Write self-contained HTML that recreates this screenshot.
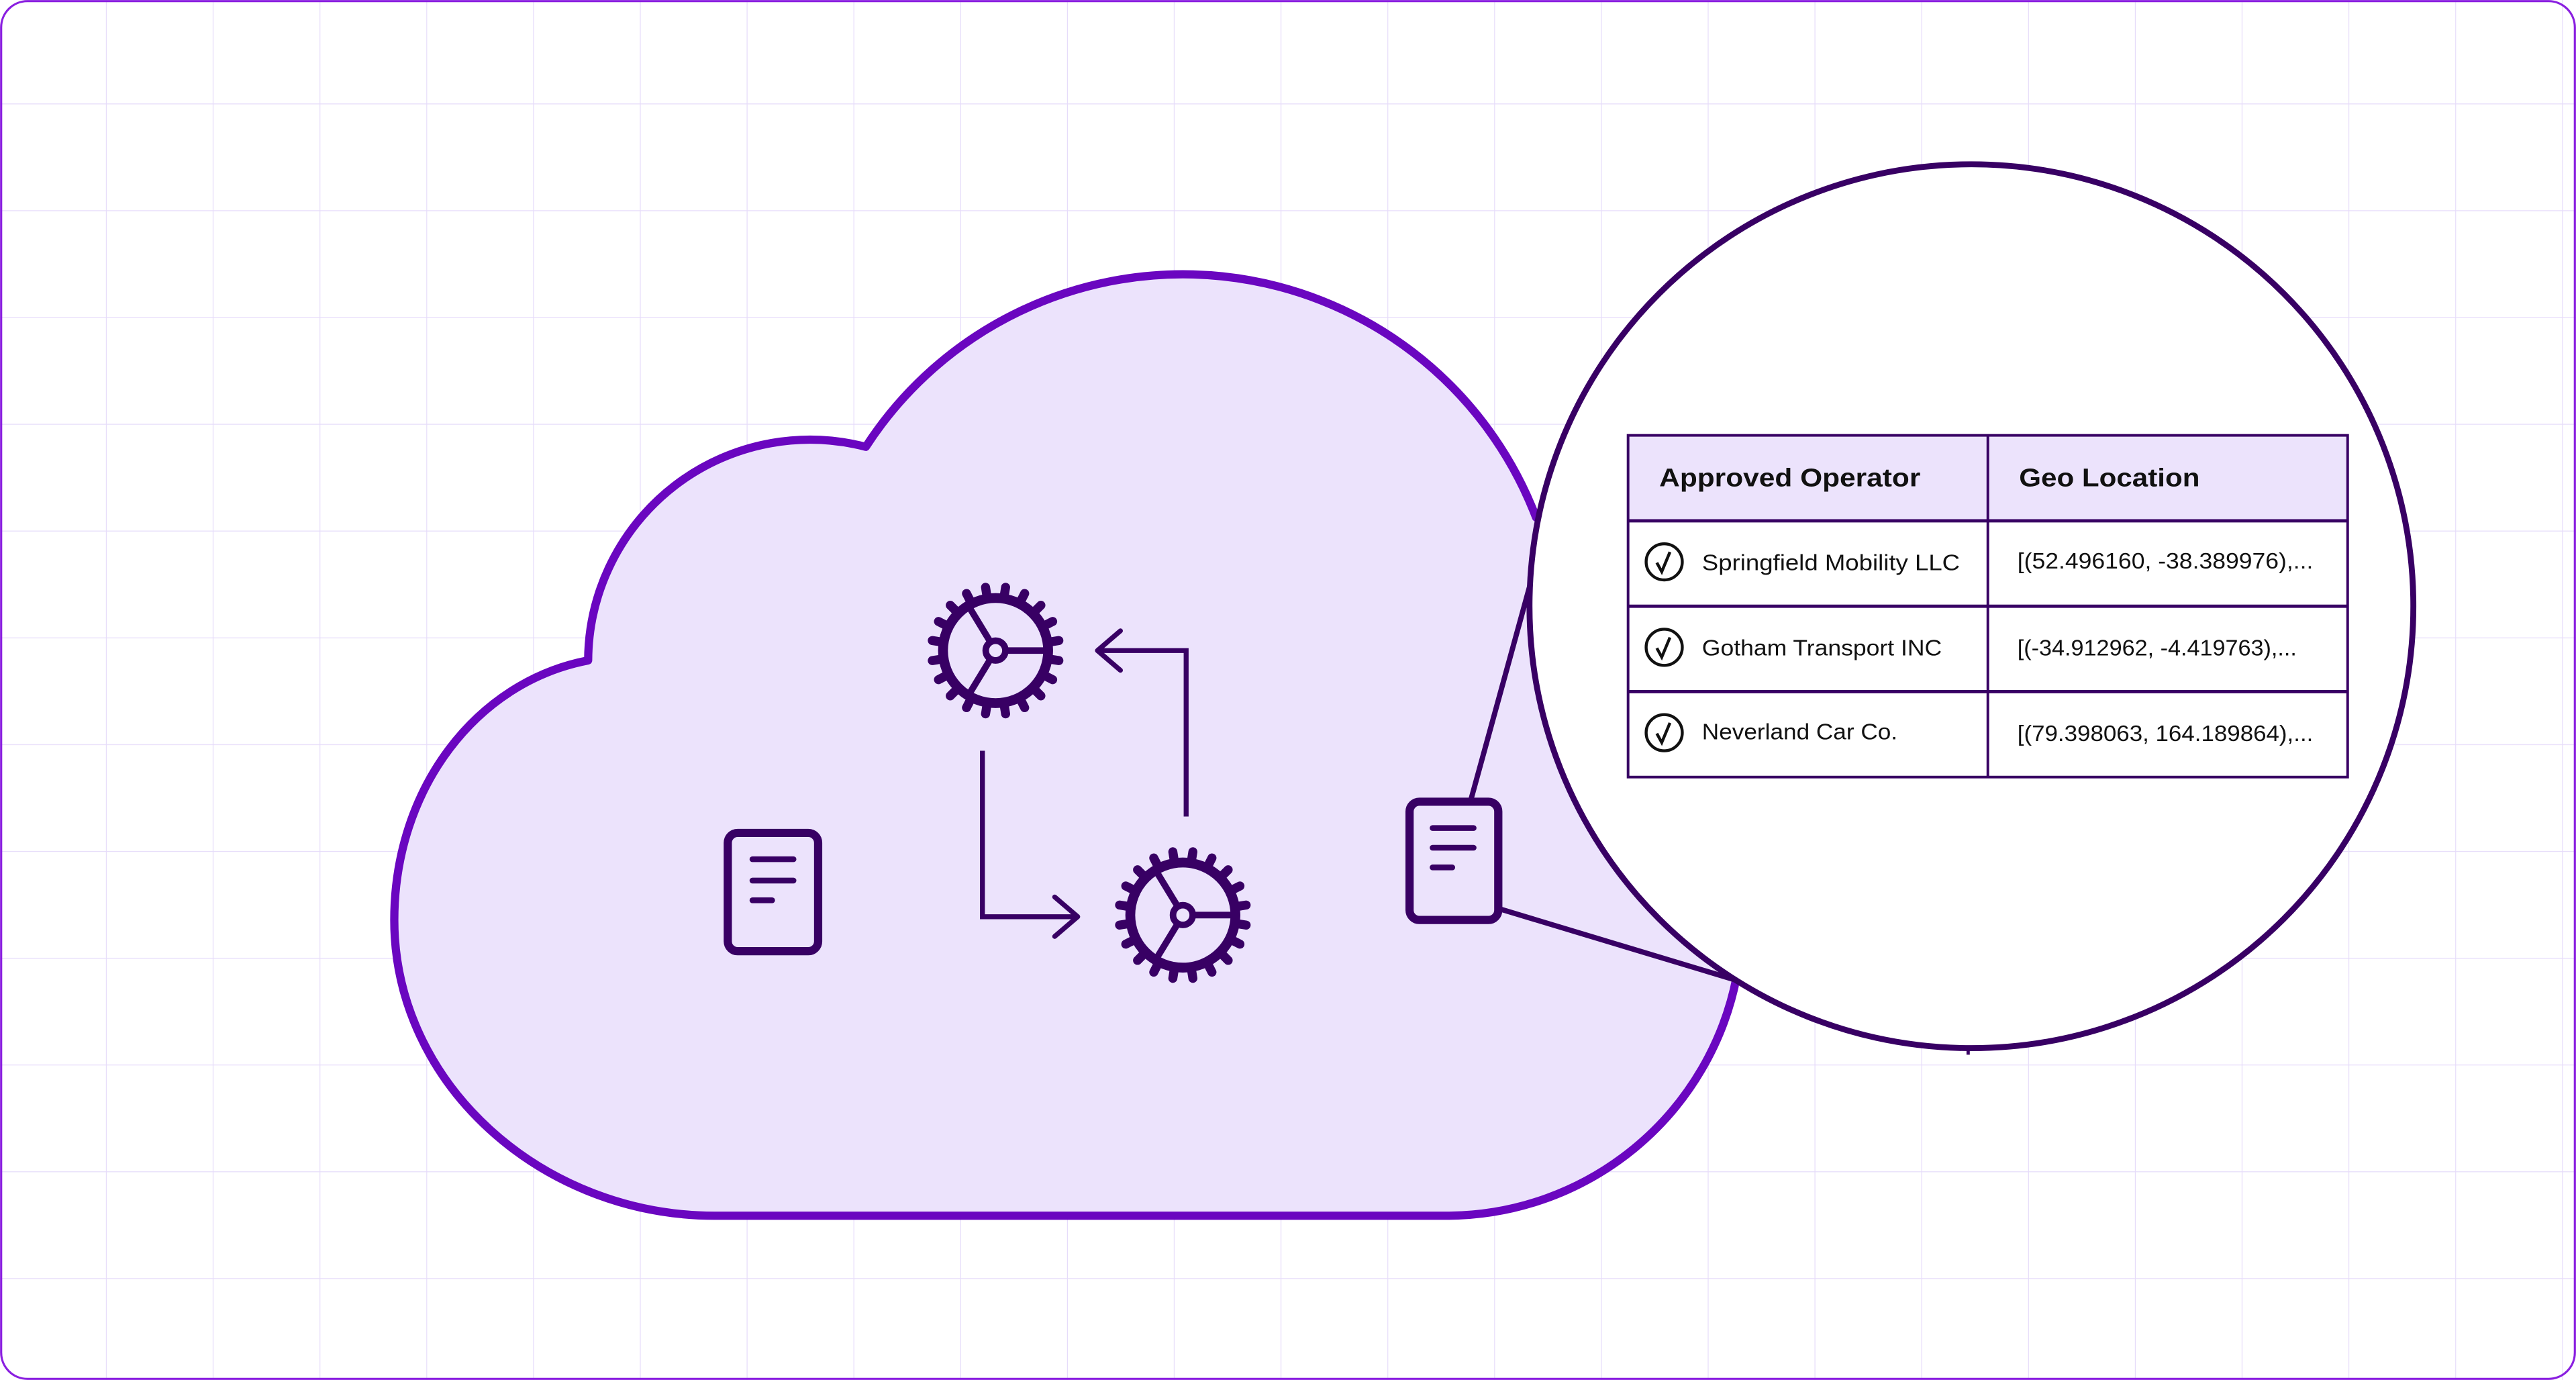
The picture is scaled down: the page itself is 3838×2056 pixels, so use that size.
<!DOCTYPE html>
<html><head><meta charset="utf-8"><style>
html,body{margin:0;padding:0;background:#fff}
svg{display:block}
text{font-family:"Liberation Sans",sans-serif;fill:#111}
</style></head><body>
<svg width="3838" height="2056" viewBox="0 0 1568 840" preserveAspectRatio="none" xmlns="http://www.w3.org/2000/svg">
<defs>
<pattern id="g" x="0" y="63" width="65" height="65" patternUnits="userSpaceOnUse">
<path d="M65 0V65M0 0H65" stroke="#e6dcfa" stroke-width="1" fill="none"/>
</pattern>
<g id="gear">
<circle r="32" fill="none" stroke="#380064" stroke-width="6"/>
<circle r="6" fill="none" stroke="#380064" stroke-width="4"/>
<line x1="6" y1="0" x2="33" y2="0" stroke="#380064" stroke-width="4"/>
<line x1="-3" y1="-5" x2="-17" y2="-28" stroke="#380064" stroke-width="4"/>
<line x1="-3" y1="5" x2="-17" y2="28" stroke="#380064" stroke-width="4"/>
<g stroke="#380064" stroke-width="5.5" stroke-linecap="round">
<line x1="0" y1="-34" x2="0" y2="-39" transform="rotate(9)"/>
<line x1="0" y1="-34" x2="0" y2="-39" transform="rotate(27)"/>
<line x1="0" y1="-34" x2="0" y2="-39" transform="rotate(45)"/>
<line x1="0" y1="-34" x2="0" y2="-39" transform="rotate(63)"/>
<line x1="0" y1="-34" x2="0" y2="-39" transform="rotate(81)"/>
<line x1="0" y1="-34" x2="0" y2="-39" transform="rotate(99)"/>
<line x1="0" y1="-34" x2="0" y2="-39" transform="rotate(117)"/>
<line x1="0" y1="-34" x2="0" y2="-39" transform="rotate(135)"/>
<line x1="0" y1="-34" x2="0" y2="-39" transform="rotate(153)"/>
<line x1="0" y1="-34" x2="0" y2="-39" transform="rotate(171)"/>
<line x1="0" y1="-34" x2="0" y2="-39" transform="rotate(189)"/>
<line x1="0" y1="-34" x2="0" y2="-39" transform="rotate(207)"/>
<line x1="0" y1="-34" x2="0" y2="-39" transform="rotate(225)"/>
<line x1="0" y1="-34" x2="0" y2="-39" transform="rotate(243)"/>
<line x1="0" y1="-34" x2="0" y2="-39" transform="rotate(261)"/>
<line x1="0" y1="-34" x2="0" y2="-39" transform="rotate(279)"/>
<line x1="0" y1="-34" x2="0" y2="-39" transform="rotate(297)"/>
<line x1="0" y1="-34" x2="0" y2="-39" transform="rotate(315)"/>
<line x1="0" y1="-34" x2="0" y2="-39" transform="rotate(333)"/>
<line x1="0" y1="-34" x2="0" y2="-39" transform="rotate(351)"/>
</g>
</g>
<g id="check">
<circle r="11" fill="none" stroke="#111" stroke-width="1.8"/>
<path d="M-4.5 0.5 L-1.5 6 L3.5 -6" fill="none" stroke="#111" stroke-width="1.8"/>
</g>
</defs>
<rect x="0" y="0" width="1568" height="840" fill="url(#g)"/>
<rect x="0.7" y="0.7" width="1566.6" height="838.6" rx="16" fill="none" stroke="#8a1fe0" stroke-width="1.3"/>

<path d="M435 740 L880 740 A180 180 0 0 0 1057 595 L1060 400 L935 315 A230 230 0 0 0 527 272 A135 135 0 0 0 358 402 C290 415 240 480 240 560 C240 660 330 740 435 740 Z" fill="#ece3fc" stroke="#6a06c0" stroke-width="5" stroke-linejoin="round"/>

<line x1="895" y1="488" x2="933" y2="350" stroke="#380064" stroke-width="3.2"/>
<line x1="912" y1="553" x2="1058" y2="597" stroke="#380064" stroke-width="3.2"/>
<line x1="1198" y1="630" x2="1198" y2="642" stroke="#380064" stroke-width="2"/>
<circle cx="1200" cy="369" r="269" fill="#fff" stroke="#380064" stroke-width="3.6"/>

<rect x="991" y="265" width="438" height="52" fill="#ece3fc"/>
<g stroke="#380064" stroke-width="1.6" fill="none">
<rect x="991" y="265" width="438" height="208"/>
<line x1="991" y1="317" x2="1429" y2="317" stroke-width="2"/>
<line x1="991" y1="369" x2="1429" y2="369" stroke-width="2"/>
<line x1="991" y1="421" x2="1429" y2="421" stroke-width="2"/>
<line x1="1210" y1="265" x2="1210" y2="473"/>
</g>
<text x="1010" y="296" font-size="15.5" font-weight="bold" textLength="159" lengthAdjust="spacingAndGlyphs">Approved Operator</text>
<text x="1229" y="296" font-size="15.5" font-weight="bold" textLength="110" lengthAdjust="spacingAndGlyphs">Geo Location</text>
<use href="#check" x="1013" y="342"/>
<use href="#check" x="1013" y="394"/>
<use href="#check" x="1013" y="446"/>
<text x="1036" y="347" font-size="13.5" textLength="157" lengthAdjust="spacingAndGlyphs">Springfield Mobility LLC</text>
<text x="1036" y="399" font-size="13.5" textLength="146" lengthAdjust="spacingAndGlyphs">Gotham Transport INC</text>
<text x="1036" y="450" font-size="13.5" textLength="119" lengthAdjust="spacingAndGlyphs">Neverland Car Co.</text>
<text x="1228" y="346" font-size="13.5" textLength="180" lengthAdjust="spacingAndGlyphs">[(52.496160, -38.389976),...</text>
<text x="1228" y="399" font-size="13.5" textLength="170" lengthAdjust="spacingAndGlyphs">[(-34.912962, -4.419763),...</text>
<text x="1228" y="451" font-size="13.5" textLength="180" lengthAdjust="spacingAndGlyphs">[(79.398063, 164.189864),...</text>

<use href="#gear" x="606" y="396"/>
<use href="#gear" x="720" y="557"/>
<g stroke="#380064" stroke-width="3" fill="none">
<path d="M722 497 V396 H670"/>
<path d="M682 384 L668 396 L682 408" stroke-linecap="round" stroke-linejoin="round"/>
<path d="M598 457 V558 H654"/>
<path d="M642 546 L656 558 L642 570" stroke-linecap="round" stroke-linejoin="round"/>
</g>

<g stroke="#380064" fill="none" stroke-linecap="round">
<rect x="443" y="507" width="55" height="72" rx="6" stroke-width="5"/>
<line x1="458" y1="523" x2="483" y2="523" stroke-width="3.5"/>
<line x1="458" y1="536" x2="483" y2="536" stroke-width="3.5"/>
<line x1="458" y1="548" x2="470" y2="548" stroke-width="3.5"/>
<rect x="858" y="488" width="54" height="72" rx="6" stroke-width="5"/>
<line x1="872" y1="504" x2="897" y2="504" stroke-width="3.5"/>
<line x1="872" y1="516" x2="897" y2="516" stroke-width="3.5"/>
<line x1="872" y1="528" x2="884" y2="528" stroke-width="3.5"/>
</g>
</svg>
</body></html>
